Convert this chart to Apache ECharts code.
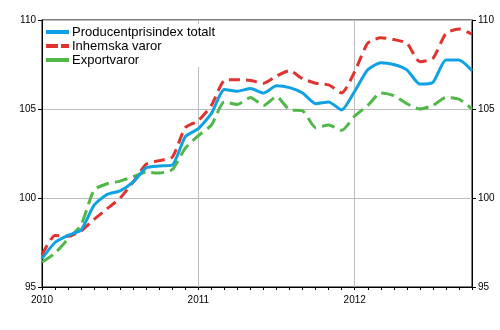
<!DOCTYPE html>
<html>
<head>
<meta charset="utf-8">
<script src="https://cdn.jsdelivr.net/npm/echarts@6/dist/echarts.min.js"></script>
<style>
  html, body { margin: 0; padding: 0; background: #fff; }
  #chart { width: 500px; height: 330px; }
</style>
</head>
<body>
<div id="chart"></div>
<script>
// Monthly producer price indices, Jan 2010 – Oct 2012
const months = [];
for (let y = 2010; y <= 2012; y++) {
  for (let m = 1; m <= 12; m++) {
    if (y === 2012 && m > 10) break;
    months.push(y + '-' + (m < 10 ? '0' + m : m));
  }
}

const totalt = [96.6, 97.5, 97.9, 98.2, 99.6, 100.2, 100.4, 100.9, 101.7, 101.8,
  101.85, 103.45, 103.9, 104.75, 106.1, 106.0, 106.15, 105.9, 106.3, 106.2,
  105.9, 105.3, 105.4, 104.95, 106.0, 107.2, 107.6, 107.5, 107.2, 106.4,
  106.5, 107.75, 107.75, 107.15];

const inhemska = [96.8, 97.9, 97.85, 98.15, 98.8, 99.4, 100.0, 100.9, 101.9, 102.1,
  102.3, 103.95, 104.35, 105.2, 106.6, 106.65, 106.6, 106.45, 106.85, 107.15,
  106.7, 106.45, 106.35, 105.9, 107.1, 108.7, 109.0, 108.9, 108.7, 107.65,
  107.85, 109.25, 109.5, 109.2];

const export_ = [96.4, 96.9, 97.7, 98.5, 100.45, 100.8, 100.95, 101.2, 101.45, 101.4,
  101.6, 102.8, 103.5, 104.1, 105.4, 105.25, 105.65, 105.2, 105.7, 104.95,
  104.9, 103.95, 104.1, 103.8, 104.6, 105.2, 105.9, 105.75, 105.3, 105.0,
  105.2, 105.65, 105.55, 105.0];

const seriesNames = ['Producentprisindex totalt', 'Inhemska varor', 'Exportvaror'];
const yTicks = { min: 95, max: 110, step: 5 };

const FONT = 'Liberation Sans, Arial, sans-serif';
const isYearStart = (i) => i % 12 === 0;

const yAxisBase = {
  type: 'value',
  min: yTicks.min,
  max: yTicks.max,
  interval: yTicks.step,
  axisLine: { show: true, lineStyle: { color: '#000', width: 1 } },
  axisTick: { show: true, length: 4, lineStyle: { color: '#000' } },
  axisLabel: { color: '#000', fontSize: 10, fontFamily: FONT, margin: 6 }
};

const chart = echarts.init(document.getElementById('chart'), null, { renderer: 'canvas' });
chart.setOption({
  animation: false,
  backgroundColor: '#fff',
  grid: {
    left: 42, right: 28, top: 20, bottom: 43,
    show: true, borderColor: '#000', borderWidth: 1, backgroundColor: 'transparent'
  },
  legend: {
    orient: 'vertical',
    left: 43,
    top: 24,
    padding: [1, 6, 0, 1],
    itemWidth: 23,
    itemHeight: 12,
    itemGap: 0,
    backgroundColor: '#fff',
    textStyle: { color: '#000', fontSize: 13, lineHeight: 14, fontFamily: FONT, padding: [0, 0, 0, -2] },
    itemStyle: { opacity: 0, color: 'rgba(0,0,0,0)', borderWidth: 0 },
    lineStyle: { width: 4 },
    data: [
      { name: seriesNames[0] },
      { name: seriesNames[1], lineStyle: { type: [12, 3], width: 4 } },
      { name: seriesNames[2], lineStyle: { type: [40, 0], width: 4 } }
    ]
  },
  xAxis: {
    type: 'category',
    data: months,
    boundaryGap: false,
    axisLine: { lineStyle: { color: '#000', width: 1 } },
    axisTick: { show: true, interval: 0, length: 3, lineStyle: { color: '#000' } },
    axisLabel: {
      interval: (i) => isYearStart(i),
      formatter: (v) => v.slice(0, 4),
      color: '#000', fontSize: 10, fontFamily: FONT, margin: 8
    },
    splitLine: {
      show: true,
      interval: (i) => isYearStart(i) && i > 0,
      lineStyle: { color: '#bdbdbd', width: 1 }
    }
  },
  yAxis: [
    Object.assign({}, yAxisBase, {
      position: 'left',
      splitLine: { show: true, lineStyle: { color: '#bdbdbd', width: 1 } }
    }),
    Object.assign({}, yAxisBase, {
      position: 'right',
      splitLine: { show: false }
    })
  ],
  series: [
    {
      name: seriesNames[0], type: 'line', data: totalt, yAxisIndex: 0,
      showSymbol: false, symbol: 'none', smooth: 0.2, z: 4,
      itemStyle: { color: '#0ea2e4' },
      lineStyle: { color: '#0ea2e4', width: 3, type: 'solid' }
    },
    {
      name: seriesNames[1], type: 'line', data: inhemska, yAxisIndex: 0,
      showSymbol: false, symbol: 'none', smooth: 0.2, z: 3,
      itemStyle: { color: '#e0322e' },
      lineStyle: { color: '#e0322e', width: 3, type: [11, 6] }
    },
    {
      name: seriesNames[2], type: 'line', data: export_, yAxisIndex: 0,
      showSymbol: false, symbol: 'none', smooth: 0.2, z: 2,
      itemStyle: { color: '#50b848' },
      lineStyle: { color: '#50b848', width: 3, type: [13, 6] }
    }
  ]
});
</script>
</body>
</html>
